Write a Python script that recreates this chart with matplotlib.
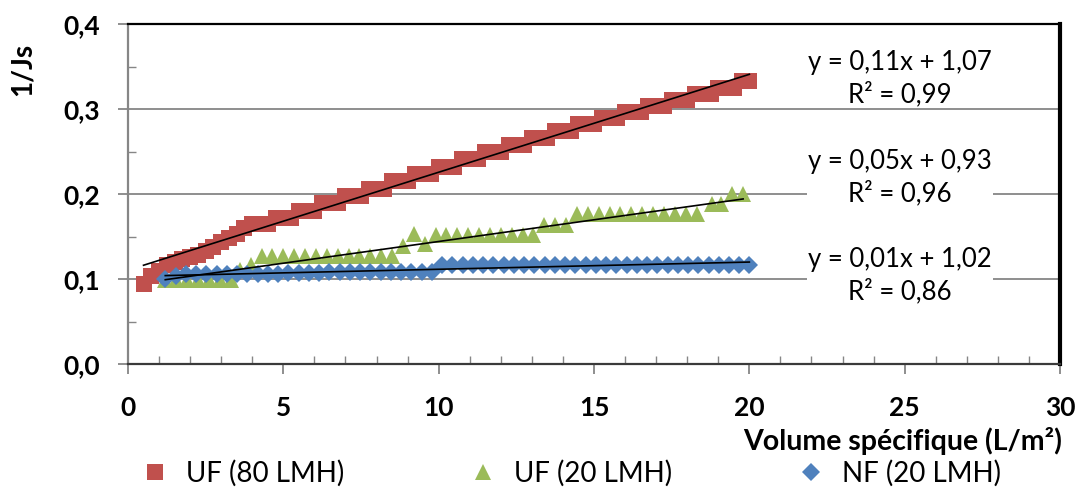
import numpy as np
import matplotlib
matplotlib.use("Agg")
import matplotlib.pyplot as plt
from matplotlib.ticker import MultipleLocator, FuncFormatter
from matplotlib.lines import Line2D

plt.rcParams["font.family"] = ["Lato", "DejaVu Sans"]

# UF (80 LMH)
x_uf80 = [0.5, 0.75, 1.0, 1.25, 1.5, 1.75, 2.0, 2.25, 2.5, 2.75, 3.0, 3.25, 3.5, 3.75,
          4.0, 4.25, 4.5, 4.75, 5.0, 5.25, 5.5, 5.75, 6.0, 6.25, 6.5, 6.75, 7.0, 7.25,
          7.5, 7.75, 8.0, 8.25, 8.5, 8.75, 9.0, 9.25, 9.5, 9.75, 10.0, 10.25, 10.5,
          10.75, 11.0, 11.25, 11.5, 11.75, 12.0, 12.25, 12.5, 12.75, 13.0, 13.25, 13.5,
          13.75, 14.0, 14.25, 14.5, 14.75, 15.0, 15.25, 15.5, 15.75, 16.0, 16.25, 16.5,
          16.75, 17.0, 17.25, 17.5, 17.75, 18.0, 18.25, 18.5, 18.75, 19.0, 19.25, 19.5,
          19.75, 20.0]
y_uf80 = [0.094, 0.104, 0.110, 0.116, 0.120, 0.124, 0.126, 0.128, 0.133, 0.138, 0.143,
          0.148, 0.153, 0.160, 0.165, 0.165, 0.165, 0.172, 0.172, 0.172, 0.180, 0.180,
          0.180, 0.189, 0.189, 0.189, 0.198, 0.198, 0.198, 0.206, 0.206, 0.206, 0.215,
          0.215, 0.215, 0.224, 0.224, 0.224, 0.232, 0.232, 0.232, 0.241, 0.241, 0.241,
          0.250, 0.250, 0.250, 0.258, 0.258, 0.258, 0.266, 0.266, 0.266, 0.274, 0.274,
          0.274, 0.282, 0.282, 0.282, 0.289, 0.289, 0.289, 0.297, 0.297, 0.297, 0.304,
          0.304, 0.304, 0.311, 0.311, 0.311, 0.318, 0.318, 0.318, 0.325, 0.325, 0.325,
          0.333, 0.333]

# UF (20 LMH)
x_uf20 = [1.2, 1.55, 1.9, 2.25, 2.6, 2.95, 3.3, 3.6, 3.95, 4.3, 4.65, 5.0, 5.35, 5.7,
          6.05, 6.4, 6.75, 7.1, 7.45, 7.8, 8.15, 8.5, 8.85, 9.2, 9.55, 9.9, 10.25, 10.6,
          10.95, 11.3, 11.65, 12.0, 12.35, 12.7, 13.05, 13.4, 13.75, 14.1, 14.45, 14.8,
          15.15, 15.5, 15.85, 16.2, 16.55, 16.9, 17.25, 17.6, 17.95, 18.3, 18.8, 19.1,
          19.45, 19.8]
y_uf20 = [0.099, 0.099, 0.099, 0.099, 0.099, 0.099, 0.099, 0.111, 0.116, 0.127, 0.127,
          0.127, 0.127, 0.127, 0.127, 0.127, 0.127, 0.127, 0.127, 0.127, 0.127, 0.127,
          0.139, 0.153, 0.141, 0.152, 0.152, 0.152, 0.152, 0.152, 0.152, 0.152, 0.152,
          0.152, 0.152, 0.164, 0.164, 0.164, 0.176, 0.176, 0.176, 0.176, 0.176, 0.176,
          0.176, 0.176, 0.176, 0.176, 0.176, 0.176, 0.188, 0.188, 0.200, 0.200]

# NF (20 LMH)
x_nf20 = [1.2, 1.53, 1.86, 2.19, 2.52, 2.85, 3.18, 3.51, 3.84, 4.17, 4.5, 4.83, 5.16,
          5.49, 5.82, 6.15, 6.48, 6.81, 7.14, 7.47, 7.8, 8.13, 8.46, 8.79, 9.12, 9.45,
          9.78, 10.11, 10.44, 10.77, 11.1, 11.43, 11.76, 12.09, 12.42, 12.75, 13.08,
          13.41, 13.74, 14.07, 14.4, 14.73, 15.06, 15.39, 15.72, 16.05, 16.38, 16.71,
          17.04, 17.37, 17.7, 18.03, 18.36, 18.69, 19.02, 19.35, 19.68, 20.0]
y_nf20 = [0.100, 0.104, 0.106, 0.106, 0.106, 0.106, 0.106, 0.106, 0.106, 0.106, 0.106,
          0.106, 0.107, 0.107, 0.107, 0.107, 0.108, 0.108, 0.108, 0.108, 0.108, 0.108,
          0.108, 0.108, 0.108, 0.108, 0.108, 0.116, 0.116, 0.116, 0.116, 0.116, 0.116,
          0.116, 0.116, 0.116, 0.116, 0.116, 0.116, 0.116, 0.117, 0.117, 0.117, 0.117,
          0.117, 0.117, 0.117, 0.117, 0.117, 0.117, 0.117, 0.117, 0.117, 0.117, 0.117,
          0.117, 0.117, 0.117]

labels = ["UF (80 LMH)", "UF (20 LMH)", "NF (20 LMH)"]
colors = ["#C0504D", "#9BBB59", "#4F81BD"]
markers = ["s", "^", "D"]
msizes = [12, 12, 9]
equations = ["y = 0,11x + 1,07\nR² = 0,99",
             "y = 0,05x + 0,93\nR² = 0,96",
             "y = 0,01x + 1,02\nR² = 0,86"]
eq_pos = [(24.85, 0.336), (24.85, 0.219), (24.85, 0.104)]

series = [(x_uf80, y_uf80), (x_uf20, y_uf20), (x_nf20, y_nf20)]

fig = plt.figure(figsize=(10.81, 4.88), dpi=100)
ax = fig.add_axes([0.1184, 0.2541, 0.8622, 0.6967])

grid_c = "#868686"
for yg in [0.1, 0.2, 0.3]:
    ax.axhline(yg, color=grid_c, lw=1.3, zorder=0)

for (xs, ys), c, m, ms in zip(series, colors, markers, msizes):
    ax.plot(xs, ys, linestyle="none", marker=m, markersize=ms, color=c,
            markeredgewidth=0, zorder=2)

# linear trend lines over each series' own x range
for xs, ys in series:
    xs = np.asarray(xs)
    k, b = np.polyfit(xs, ys, 1)
    xe = np.array([xs.min(), xs.max()])
    ax.plot(xe, k * xe + b, color="black", lw=1.2, zorder=3)

for txt, (tx, ty) in zip(equations, eq_pos):
    ax.text(tx, ty, txt, ha="center", va="center", fontsize=18.5, linespacing=1.3,
            bbox=dict(facecolor="white", edgecolor="none", pad=1), zorder=4)

ax.set_xlim(0, 30)
ax.set_ylim(0, 0.4)
ax.xaxis.set_major_locator(MultipleLocator(5))
ax.xaxis.set_minor_locator(MultipleLocator(1))
ax.yaxis.set_major_locator(MultipleLocator(0.1))
ax.yaxis.set_minor_locator(MultipleLocator(0.05))
ax.yaxis.set_major_formatter(FuncFormatter(lambda v, p: f"{v:.1f}".replace(".", ",")))
ax.xaxis.set_major_formatter(FuncFormatter(lambda v, p: f"{v:.0f}"))

ax.tick_params(which="major", direction="out", length=7, width=1.3, color=grid_c,
               labelsize=19)
ax.tick_params(which="minor", direction="in", length=6, width=1.0, color=grid_c)
ax.tick_params(axis="x", which="major", pad=16)
ax.tick_params(axis="y", which="major", pad=13)
for lab in ax.get_xticklabels() + ax.get_yticklabels():
    lab.set_fontweight("bold")

ax.spines["left"].set_color(grid_c)
ax.spines["left"].set_linewidth(1.6)
ax.spines["bottom"].set_color("#3a3a3a")
ax.spines["bottom"].set_linewidth(1.6)
ax.spines["top"].set_color("black")
ax.spines["top"].set_linewidth(1.6)
ax.spines["right"].set_color("black")
ax.spines["right"].set_linewidth(3)

fig.text(0.021, 0.857, "1/Js", rotation=90, ha="center", va="center",
         fontsize=20, fontweight="bold")
fig.text(0.982, 0.097, "Volume spécifique (L/m²)", ha="right", va="center",
         fontsize=20.5, fontweight="bold")

handles = [Line2D([], [], linestyle="none", marker=m, markersize=ms, color=c,
                  markeredgewidth=0)
           for c, m, ms in zip(colors, markers, msizes)]
fig.legend(handles, labels, loc="center left", bbox_to_anchor=(0.120, 0.03),
           ncol=3, frameon=False, fontsize=20, handletextpad=0.62,
           columnspacing=4.5, handlelength=1.0, borderaxespad=0)

fig.savefig("out.png", dpi=100)
